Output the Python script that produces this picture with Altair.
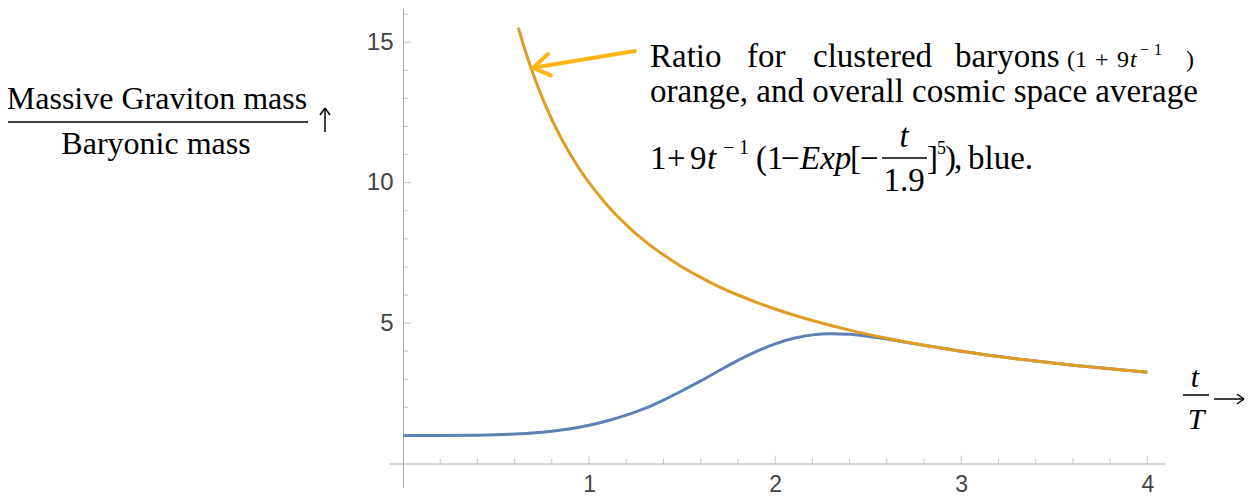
import altair as alt
import pandas as pd

# ---------------- data ----------------
t_orange = [0.62, 0.65, 0.70, 0.75, 0.80, 0.85, 0.90, 0.95, 1.00, 1.10, 1.20, 1.30, 1.40,
            1.50, 1.60, 1.70, 1.80, 1.90, 2.00, 2.20, 2.40, 2.60, 2.80, 3.00, 3.20, 3.40,
            3.60, 3.80, 4.00]
v_orange = [15.52, 14.85, 13.86, 13.00, 12.25, 11.59, 11.00, 10.47, 10.00, 9.18, 8.50, 7.92,
            7.43, 7.00, 6.63, 6.29, 6.00, 5.74, 5.50, 5.09, 4.75, 4.46, 4.21, 4.00, 3.81, 3.65,
            3.50, 3.37, 3.25]

t_blue = [0.0, 0.2, 0.4, 0.6, 0.8, 0.9, 1.0, 1.1, 1.2, 1.3, 1.4, 1.5, 1.6, 1.7, 1.8, 1.9,
          2.0, 2.1, 2.2, 2.3, 2.4, 2.5, 2.6, 2.7, 2.8, 3.0, 3.2, 3.4, 3.6, 3.8, 4.0]
v_blue = [1.00, 1.00, 1.01, 1.05, 1.15, 1.24, 1.36, 1.52, 1.72, 1.96, 2.26, 2.59, 2.94, 3.31,
          3.67, 3.99, 4.26, 4.46, 4.58, 4.62, 4.60, 4.53, 4.43, 4.32, 4.21, 4.00, 3.81, 3.65,
          3.50, 3.37, 3.25]

x_major = [1, 2, 3, 4]
x_minor = [0.2, 0.4, 0.6, 0.8, 1.2, 1.4, 1.6, 1.8, 2.2, 2.4, 2.6, 2.8, 3.2, 3.4, 3.6, 3.8]
y_major = [5, 10, 15]
y_minor = [1, 2, 3, 4, 6, 7, 8, 9, 11, 12, 13, 14, 16]

# annotation arrow (data units): tip, and shaft tail / arm ends
arrow_x1 = [0.70, 0.70, 0.70]
arrow_y1 = [14.09, 14.09, 14.09]
arrow_x2 = [1.247, 0.779, 0.794]
arrow_y2 = [14.69, 14.58, 13.82]

# ---------------- styles ----------------
BLUE = "#5E81B5"
ORANGE = "#E19C24"
ARROW = "#FDB515"
AXC = "#ababab"
SERIF = "Liberation Serif"
SANS = "Liberation Sans"

X0, Y0 = 389, 8          # page position of the plot origin
W, H = 776, 479

xs = alt.Scale(domain=[-0.075, 4.095], nice=False, zero=False)
ys = alt.Scale(domain=[-0.837, 16.22], nice=False, zero=False)

xaxis = alt.Axis(values=x_major, offset=-23.5, ticks=False, grid=False, domainColor=AXC,
                 domainWidth=1, labelFont=SANS, labelFontSize=23, labelColor="#444444",
                 labelPadding=10, labelFlush=False, format="d")
yaxis = alt.Axis(values=y_major, offset=-14, ticks=False, grid=False, domainColor=AXC,
                 domainWidth=1, labelFont=SANS, labelFontSize=24, labelColor="#444444",
                 labelPadding=10, format="d")

df_blue = pd.DataFrame({"t": t_blue, "v": v_blue})
df_orange = pd.DataFrame({"t": t_orange, "v": v_orange})

blue = alt.Chart(df_blue).mark_line(color=BLUE, strokeWidth=3, interpolate="monotone").encode(
    x=alt.X("t:Q", scale=xs, axis=xaxis, title=None),
    y=alt.Y("v:Q", scale=ys, axis=yaxis, title=None),
)
orange = alt.Chart(df_orange).mark_line(color=ORANGE, strokeWidth=3, interpolate="monotone").encode(
    x=alt.X("t:Q", scale=xs), y=alt.Y("v:Q", scale=ys)
)

def xticks(vals, size):
    d = pd.DataFrame({"t": vals, "z": [0] * len(vals)})
    return alt.Chart(d).mark_tick(orient="vertical", size=size, thickness=1, color=AXC,
                                  yOffset=-size / 2).encode(
        x=alt.X("t:Q", scale=xs), y=alt.Y("z:Q", scale=ys))

def yticks(vals, size):
    d = pd.DataFrame({"v": vals, "z": [0] * len(vals)})
    return alt.Chart(d).mark_tick(orient="horizontal", size=size, thickness=1, color=AXC,
                                  xOffset=size / 2).encode(
        y=alt.Y("v:Q", scale=ys), x=alt.X("z:Q", scale=xs))

df_arrow = pd.DataFrame({"x1": arrow_x1, "y1": arrow_y1, "x2": arrow_x2, "y2": arrow_y2})
arrow = alt.Chart(df_arrow).mark_rule(color=ARROW, strokeWidth=4, strokeCap="round").encode(
    x=alt.X("x1:Q", scale=xs), y=alt.Y("y1:Q", scale=ys), x2="x2:Q", y2="y2:Q")

one = pd.DataFrame({"a": [0]})

def txt(s, px, py, size=33, italic=False, align="left"):
    return alt.Chart(one).mark_text(fontSize=size, font=SERIF,
                                    fontStyle="italic" if italic else "normal",
                                    align=align, baseline="alphabetic", color="black").encode(
        x=alt.value(px - X0), y=alt.value(py - Y0), text=alt.value(s))

def seg(px1, py1, px2, py2, w=1.5):
    return alt.Chart(one).mark_rule(color="black", strokeWidth=w).encode(
        x=alt.value(px1 - X0), x2=alt.value(px2 - X0),
        y=alt.value(py1 - Y0), y2=alt.value(py2 - Y0))

def hbar(px1, px2, py, w=1.5):
    return seg(px1, py, px2, py, w)

L1, L2, L3 = 67, 102, 169

texts = [
    # y label
    txt("Massive Graviton mass", 157, 109, 32, align="center"),
    hbar(8, 308, 122),
    txt("Baryonic mass", 156, 154, 32, align="center"),
    seg(325, 109, 325, 132), seg(325, 108, 320, 115), seg(325, 108, 330, 115),
    # annotation line 1
    txt("Ratio", 650, L1), txt("for", 747, L1), txt("clustered", 813, L1), txt("baryons", 955, L1),
    txt("(1", 1067, L1, 24), txt("+", 1095, L1, 24), txt("9", 1117, L1, 24),
    txt("t", 1130, L1, 24, italic=True), txt("\u2212", 1140, L1 - 12, 16),
    txt("1", 1154, L1 - 12, 16), txt(")", 1186, L1, 24),
    # line 2
    txt("orange, and overall cosmic space average", 650, L2),
    # line 3
    txt("1", 650, L3), txt("+", 667, L3), txt("9", 690, L3), txt("t", 707, L3, italic=True),
    txt("\u2212", 723, L3 - 15, 20), txt("1", 739, L3 - 15, 20),
    txt("(1", 756, L3), txt("\u2212", 781, L3),
    txt("Exp", 800, L3, italic=True), txt("[", 850, L3), txt("\u2212", 860, L3),
    txt("t", 904, L3 - 22, italic=True, align="center"), hbar(882, 927, L3 - 11),
    txt("1.9", 904, L3 + 22, align="center"),
    txt("]", 927, L3), txt("5", 937, L3 - 15, 18), txt(")", 945, L3), txt(",", 954, L3),
    txt("blue.", 968, L3),
    # x label
    txt("t", 1195, 387, 30, italic=True, align="center"), hbar(1183, 1209, 395),
    txt("T", 1196, 429, 30, italic=True, align="center"),
    seg(1214, 399, 1243, 399), seg(1244, 399, 1237, 394), seg(1244, 399, 1237, 404),
]

chart = alt.layer(
    blue, orange, xticks(x_minor, 5), xticks(x_major, 8), yticks(y_minor, 5), yticks(y_major, 8),
    arrow, *texts
).properties(
    width=W, height=H,
    autosize=alt.AutoSizeParams(type="none"),
    padding={"left": X0 - 8, "top": Y0 - 8, "right": 1253 - 16 - X0 - W + 8, "bottom": 8},
).configure_view(stroke=None)

chart.save("out.html", embed_options={"renderer": "svg", "actions": False})
